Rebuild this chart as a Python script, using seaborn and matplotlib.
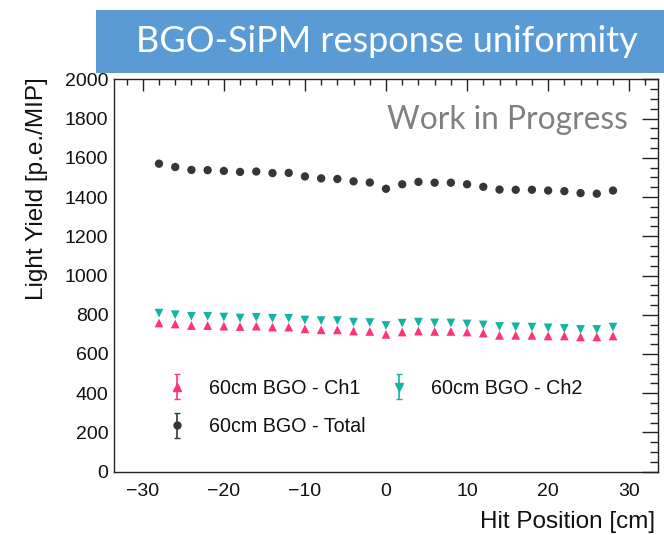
import numpy as np
import pandas as pd
import matplotlib
matplotlib.use("Agg")
import matplotlib.pyplot as plt
import seaborn as sns
from matplotlib.ticker import MultipleLocator
from matplotlib.legend_handler import HandlerErrorbar
from matplotlib.patches import Rectangle

# ---- data ----
hit_position = [-28, -26, -24, -22, -20, -18, -16, -14, -12, -10, -8, -6, -4, -2,
                0, 2, 4, 6, 8, 10, 12, 14, 16, 18, 20, 22, 24, 26, 28]
ly_total = [1570, 1553, 1538, 1537, 1533, 1528, 1530, 1522, 1523, 1505, 1495, 1492, 1480, 1474,
            1442, 1465, 1477, 1473, 1473, 1465, 1452, 1438, 1437, 1437, 1433, 1430, 1420, 1417, 1433]
ly_ch2 = [808, 800, 792, 792, 788, 783, 787, 782, 782, 773, 770, 770, 762, 760,
          745, 757, 762, 758, 758, 753, 748, 740, 738, 737, 733, 730, 725, 725, 737]
ly_ch1 = [758, 753, 745, 745, 742, 740, 742, 737, 737, 728, 723, 723, 717, 715,
          700, 712, 717, 715, 715, 712, 707, 695, 695, 695, 692, 692, 687, 687, 692]
series_labels = ["60cm BGO - Ch1", "60cm BGO - Ch2", "60cm BGO - Total"]
title_text = "BGO-SiPM response uniformity"
wip_text = "Work in Progress"

c_ch1 = "#FF3377"
c_ch2 = "#14B3A3"
c_tot = "#363636"

sns.set_style("white")
plt.rcParams["font.family"] = ["Liberation Sans", "DejaVu Sans"]

W, H = 664, 535
fig = plt.figure(figsize=(W / 100, H / 100), dpi=100)
L, R, T, B = 114, 658, 79.3, 471.7
ax = fig.add_axes([L / W, 1 - B / H, (R - L) / W, (B - T) / H])

df = pd.DataFrame({"x": hit_position, "ch1": ly_ch1, "ch2": ly_ch2, "tot": ly_total})
sns.scatterplot(data=df, x="x", y="tot", ax=ax, marker="o", s=36, color=c_tot,
                edgecolor="none", zorder=3)
sns.scatterplot(data=df, x="x", y="ch2", ax=ax, marker="v", s=40, color=c_ch2,
                edgecolor="none", zorder=3)
sns.scatterplot(data=df, x="x", y="ch1", ax=ax, marker="^", s=40, color=c_ch1,
                edgecolor="none", zorder=3)

ax.set_xlim(-33.55, 33.55)
ax.set_ylim(0, 2000)
ax.xaxis.set_major_locator(MultipleLocator(10))
ax.xaxis.set_minor_locator(MultipleLocator(2))
ax.yaxis.set_major_locator(MultipleLocator(200))
ax.yaxis.set_minor_locator(MultipleLocator(50))

for sp in ax.spines.values():
    sp.set_visible(True)
    sp.set_linewidth(1.0)
    sp.set_color("#222222")

ax.tick_params(axis="both", which="both", direction="in", top=True, right=True,
               color="#222222", width=1.0, labelsize=14, labelcolor="#111111")
ax.tick_params(axis="x", which="major", length=8.6, pad=8)
ax.tick_params(axis="x", which="minor", length=4.3)
ax.tick_params(axis="y", which="major", length=11.5, pad=4)
ax.tick_params(axis="y", which="minor", length=5.8)

ax.set_xlabel("Hit Position [cm]", fontsize=17.5, loc="right", color="#111111")
ax.set_ylabel("Light Yield [p.e./MIP]", fontsize=17.5, loc="top", color="#111111")
ax.xaxis.set_label_coords(1.0 - 3 / (R - L), -(511 - B) / (B - T))
ax.xaxis.label.set_va("top")
ax.yaxis.set_label_coords(-(L - 48.5) / (R - L), 1.0 + 2 / (B - T))

ax.text(0.945, 0.897, wip_text, transform=ax.transAxes, ha="right", va="center",
        fontsize=22.8, color="#808080", family=["Lato", "DejaVu Sans"])

# legend proxies (error-bar style entries)
h1 = ax.errorbar([np.nan], [np.nan], yerr=[1], fmt="^", color=c_ch1, ms=5.5, capsize=2.5, elinewidth=1.2)
h2 = ax.errorbar([np.nan], [np.nan], yerr=[1], fmt="v", color=c_ch2, ms=5.5, capsize=2.5, elinewidth=1.2)
h3 = ax.errorbar([np.nan], [np.nan], yerr=[1], fmt="o", color=c_tot, ms=5.0, capsize=2.5, elinewidth=1.2)
leg = ax.legend([h1, h3, h2], [series_labels[0], series_labels[2], series_labels[1]],
                ncol=2, loc="upper left", bbox_to_anchor=(0.0974, 0.2424 - 2 / (B - T)),
                frameon=False, fontsize=14.2, handlelength=1.0, handletextpad=1.15,
                columnspacing=1.15, labelspacing=1.0, borderpad=0, borderaxespad=0,
                handler_map={type(h1): HandlerErrorbar(xerr_size=0.3, yerr_size=0.62)})
for t in leg.get_texts():
    t.set_color("#111111")

# title banner
fig.patches.append(Rectangle((96 / W, 1 - 73 / H), 1 - 96 / W, 63 / H,
                             transform=fig.transFigure, facecolor="#5B9BD5",
                             edgecolor="none", zorder=0))
fig.text(386.5 / W, 1 - 42 / H, title_text, ha="center", va="center",
         fontsize=26, color="white", family=["Lato", "DejaVu Sans"])

fig.savefig("out.png", dpi=100)
